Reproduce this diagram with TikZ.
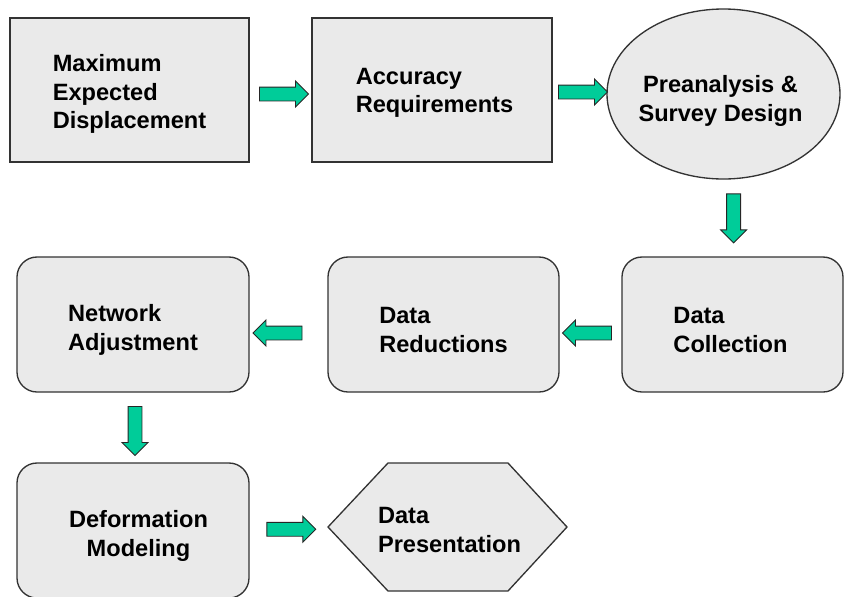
\documentclass[tikz,border=0pt]{standalone}
\usepackage{fontspec}
\setmainfont{Liberation Sans}
\usetikzlibrary{shapes.geometric,shapes.arrows,calc}
\newlength\pxu
\setlength\pxu{0.75pt}
\definecolor{boxfill}{HTML}{EAEAEA}
\definecolor{arrowgreen}{HTML}{00CC99}
\begin{document}
\begin{tikzpicture}[x=\pxu, y=-\pxu,
  boxstyle/.style={draw=black!80, line width=1pt, fill=boxfill, inner sep=0pt},
  txt/.style={font=\fontsize{17.7}{21.4}\selectfont\bfseries, align=left, inner sep=0pt},
  ctxt/.style={txt, align=center},
  rbox/.style={boxstyle, rounded corners=20\pxu},
  barrow/.style={single arrow, draw=black!85, line width=0.7pt, fill=arrowgreen,
    minimum height=49\pxu, single arrow head extend=6\pxu,
    inner xsep=0pt, inner ysep=6.5\pxu},
]
\useasboundingbox (0,0) rectangle (844,597);

% row 1
\node[boxstyle, minimum width=239\pxu, minimum height=144\pxu] (m1) at (129.5,90) {};
\node[txt] (m1t) at ($(m1.center)+(0,4)$) {Maximum\\Expected\\Displacement};
\node[boxstyle, minimum width=240\pxu, minimum height=144\pxu] (m2) at (432,90) {};
\node[txt] (m2t) at ($(m2.center)+(2.5,3)$) {Accuracy\\Requirements};
\node[boxstyle, ellipse, minimum width=233\pxu, minimum height=170\pxu] (pre) at (723.5,94) {};
\node[ctxt] (pret) at ($(pre.center)+(-3,7)$) {Preanalysis \&\\Survey Design};

% row 2
\node[rbox, minimum width=221\pxu, minimum height=135\pxu] (dc) at (732.5,324.5) {};
\node[txt] (dct) at ($(dc.center)+(-2,5.5)$) {Data\\Collection};
\node[rbox, minimum width=231\pxu, minimum height=135\pxu] (dr) at (443.5,324.5) {};
\node[txt] (drt) at ($(dr.center)+(0,5.5)$) {Data\\Reductions};
\node[rbox, minimum width=232\pxu, minimum height=135\pxu] (na) at (133,324.5) {};
\node[txt] (nat) at ($(na.center)+(0,5.5)$) {Network\\Adjustment};

% row 3
\node[rbox, minimum width=232\pxu, minimum height=135\pxu] (dm) at (133,530.5) {};
\node[ctxt] (dmt) at ($(dm.center)+(5.5,5.5)$) {Deformation\\Modeling};
\coordinate (hW) at (328,527);
\coordinate (hNW) at (388,463);
\coordinate (hNE) at (508,463);
\coordinate (hE) at (567,527);
\coordinate (hSE) at (508,591);
\coordinate (hSW) at (388,591);
\draw[boxstyle] (hW) -- (hNW) -- (hNE) -- (hE) -- (hSE) -- (hSW) -- cycle;
\node[txt] (dp) at (449.5,530) {Data\\Presentation};

% block arrows
\node[barrow] (a1) at ($(m1.east)!0.5!(m2.west)+(0,4)$) {};
\node[barrow] (a2) at ($(m2.east)!0.5!(pre.west)$) {};
\node[barrow, rotate=-90] (a3) at ($(pre.south)!0.46!(dc.north)+(6,0)$) {};
\node[barrow, rotate=180] (a4) at ($(dc.west)!0.5!(dr.east)+(0,8.5)$) {};
\node[barrow, rotate=180] (a5) at ($(dr.west)!0.5!(na.east)+(-7.5,8.5)$) {};
\node[barrow, rotate=-90] (a6) at ($(na.south)!0.5!(dm.north)+(2,0)$) {};
\node[barrow] (a7) at ($(dm.east)!0.5!(hW)+(-1,0.5)$) {};
\end{tikzpicture}
\end{document}
